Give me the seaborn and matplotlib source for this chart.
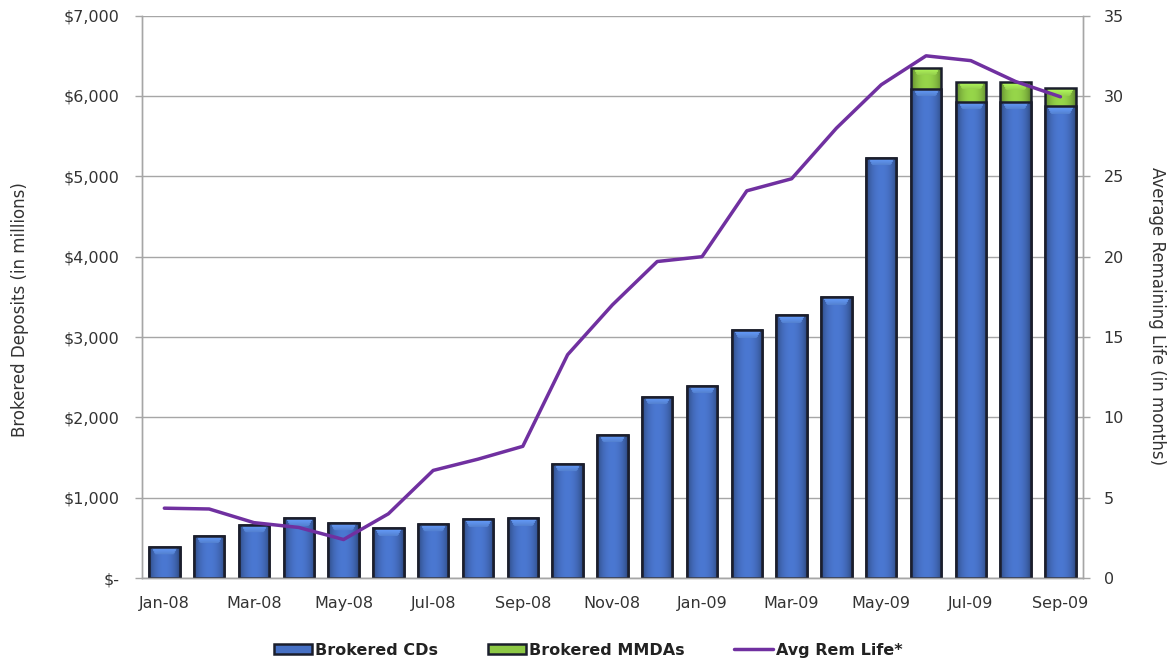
import numpy as np
import pandas as pd
import matplotlib
matplotlib.use("Agg")
import matplotlib.pyplot as plt
import matplotlib.colors as mcolors
import seaborn as sns
from matplotlib.ticker import FixedLocator, FuncFormatter

months = ["Jan-08", "Feb-08", "Mar-08", "Apr-08", "May-08", "Jun-08", "Jul-08",
          "Aug-08", "Sep-08", "Oct-08", "Nov-08", "Dec-08", "Jan-09", "Feb-09",
          "Mar-09", "Apr-09", "May-09", "Jun-09", "Jul-09", "Aug-09", "Sep-09"]
brokered_cds = [390, 530, 660, 745, 685, 620, 675, 730, 745, 1425, 1780, 2255,
                2395, 3085, 3270, 3495, 5230, 6090, 5930, 5925, 5870]
brokered_mmdas = [0, 0, 0, 0, 0, 0, 0, 0, 0, 0, 0, 0,
                  0, 0, 0, 0, 0, 260, 250, 245, 225]
avg_rem_life = [4.35, 4.3, 3.45, 3.15, 2.4, 4.0, 6.7, 7.4, 8.2, 13.9, 17.0, 19.7,
                20.0, 24.1, 24.85, 28.0, 30.7, 32.5, 32.2, 30.9, 29.95]

df = pd.DataFrame({
    "month": months,
    "cds": brokered_cds,
    "mmdas": brokered_mmdas,
    "life": avg_rem_life,
})
df["total"] = df["cds"] + df["mmdas"]
df["pos"] = np.arange(len(df))

sns.set_style("white")
plt.rcParams["font.family"] = ["DejaVu Sans"]

BLUE = "#4670c4"
GREEN = "#8dc845"
PURPLE = "#7030a0"
EDGE = "#1b1e2c"
GRID = "#a6a6a6"
TEXT = "#333333"
TICK_FS = 11.5
LABEL_FS = 12

fig = plt.figure(figsize=(11.76, 6.66), dpi=100)
ax = fig.add_axes([0.1207, 0.132, 0.8001, 0.8445])

# Stacked columns: totals (MMDAs on top) first, CDs drawn over them
sns.barplot(data=df, x="month", y="total", color=GREEN, saturation=1,
            width=0.68, edgecolor=EDGE, linewidth=1.8, ax=ax,
            label="Brokered MMDAs", zorder=2)
sns.barplot(data=df, x="month", y="cds", color=BLUE, saturation=1,
            width=0.68, edgecolor=EDGE, linewidth=1.8, ax=ax,
            label="Brokered CDs", zorder=3)
if ax.legend_ is not None:
    ax.legend_.remove()

ax.set_xlim(-0.5, len(df) - 0.5)
ax.set_ylim(0, 7000)
ax.set_yticks(np.arange(0, 7001, 1000))
ax.yaxis.set_major_formatter(FuncFormatter(
    lambda v, p: "$-" if v == 0 else f"${v:,.0f}"))
ax.grid(axis="y", color=GRID, linewidth=1.0, zorder=0)
ax.set_axisbelow(True)


def bevel_fill(patch, base, z, cap_gain):
    """Paint a bar with a soft cylinder shading and a brighter top cap."""
    x0, y0 = patch.get_x(), patch.get_y()
    w, h = patch.get_width(), patch.get_height()
    if h <= 0:
        return
    p0 = ax.transData.transform((x0, y0))
    p1 = ax.transData.transform((x0 + w, y0 + h))
    wpx = max(int(round(p1[0] - p0[0])), 2)
    hpx = max(int(round(p1[1] - p0[1])), 2)
    rgb = np.array(mcolors.to_rgb(base))
    u = np.linspace(0, 1, wpx)
    shade = 0.62 + 0.45 * np.sin(np.pi * u) ** 0.6
    img = np.clip(rgb[None, None, :] * shade[None, :, None], 0, 1)
    img = np.repeat(img, hpx, axis=0)
    light = np.clip(rgb * cap_gain + 0.04, 0, 1)
    cap = min(8, hpx // 2)
    for r in range(cap):
        inset = int(round(r * 0.55)) + 2
        lo, hi = inset, wpx - inset
        if hi > lo:
            img[r, lo:hi, :] = np.clip(light * (1.0 - 0.025 * r), 0, 1)
    im = ax.imshow(img, extent=[x0, x0 + w, y0, y0 + h], origin="upper",
                   aspect="auto", interpolation="bilinear", zorder=z)
    im.set_clip_path(patch)
    patch.set_facecolor("none")


fig.canvas.draw()
for patch in ax.containers[0]:
    bevel_fill(patch, GREEN, 1.95, 1.22)
for patch in ax.containers[1]:
    bevel_fill(patch, BLUE, 2.95, 1.32)
ax.set_xlim(-0.5, len(df) - 0.5)
ax.set_ylim(0, 7000)

# Labels every other month, tick marks between category groups
label_pos = df["pos"].values[::2]
ax.set_xticks(label_pos)
ax.set_xticklabels(df["month"].values[::2])
ax.xaxis.set_minor_locator(FixedLocator(np.arange(-0.5, len(df), 2)))
ax.tick_params(axis="x", which="major", length=0, pad=13, labelsize=TICK_FS,
               labelcolor=TEXT)
ax.tick_params(axis="x", which="minor", length=5, width=1, color=GRID,
               direction="out")
ax.tick_params(axis="y", length=5, width=1, color=GRID, direction="out",
               labelsize=TICK_FS, labelcolor=TEXT, pad=11)
ax.set_xlabel("")
ax.set_ylabel("")

ax.spines["top"].set_visible(False)
for side in ["left", "bottom", "right"]:
    ax.spines[side].set_color(GRID)
    ax.spines[side].set_linewidth(1.0)

ax2 = ax.twinx()
sns.lineplot(data=df, x="pos", y="life", color=PURPLE, linewidth=2.5,
             ax=ax2, label="Avg Rem Life*", legend=False)
ax2.set_ylim(0, 35)
ax2.set_yticks(np.arange(0, 36, 5))
ax2.tick_params(axis="y", length=5, width=1, color=GRID, direction="out",
                labelsize=TICK_FS, labelcolor=TEXT, pad=10)
ax2.set_ylabel("")
ax2.set_xlim(-0.5, len(df) - 0.5)
ax2.spines["top"].set_visible(False)
for side in ["left", "bottom", "right"]:
    ax2.spines[side].set_color(GRID)
    ax2.spines[side].set_linewidth(1.0)

# Axis titles
fig.text(0.017, 0.5345, "Brokered Deposits (in millions)", rotation=90,
         ha="center", va="center", fontsize=LABEL_FS, color=TEXT)
fig.text(0.9838, 0.5255, "Average Remaining Life (in months)", rotation=270,
         ha="center", va="center", fontsize=LABEL_FS, color=TEXT)

life_line = ax2.lines[0]
cd_handle = plt.Rectangle((0, 0), 1, 1, facecolor=BLUE, edgecolor=EDGE,
                          linewidth=1.8)
mmda_handle = plt.Rectangle((0, 0), 1, 1, facecolor=GREEN, edgecolor=EDGE,
                            linewidth=1.8)
leg = fig.legend([cd_handle, mmda_handle, life_line],
                 ["Brokered CDs", "Brokered MMDAs", "Avg Rem Life*"],
                 loc="center", bbox_to_anchor=(0.5, 0.024), ncol=3,
                 frameon=False, handlelength=2.4, handleheight=0.6,
                 handletextpad=0.2, columnspacing=3.1,
                 prop={"weight": "bold", "size": 11.5})
for t in leg.get_texts():
    t.set_color("#222222")

fig.savefig("out.png", dpi=100)
